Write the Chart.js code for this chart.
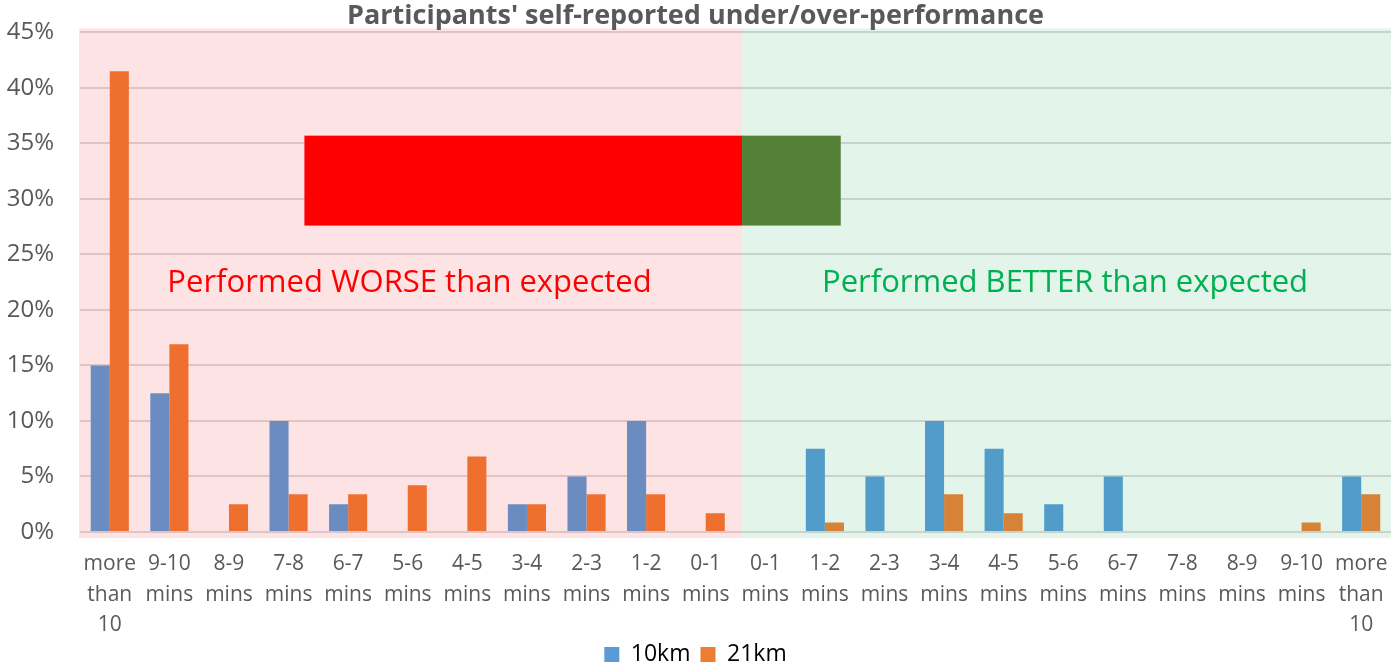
<!DOCTYPE html>
<html>
<head>
<meta charset="utf-8">
<script src="https://cdn.jsdelivr.net/npm/chart.js@4/dist/chart.umd.min.js"></script>
<style>
  body { margin: 0; background: #fff; }
</style>
</head>
<body>
<canvas id="myChart" width="1396" height="669"></canvas>
<script>
const categories = [
  ["more", "than", "10"], ["9-10", "mins"], ["8-9", "mins"], ["7-8", "mins"], ["6-7", "mins"],
  ["5-6", "mins"], ["4-5", "mins"], ["3-4", "mins"], ["2-3", "mins"], ["1-2", "mins"], ["0-1", "mins"],
  ["0-1", "mins"], ["1-2", "mins"], ["2-3", "mins"], ["3-4", "mins"], ["4-5", "mins"], ["5-6", "mins"],
  ["6-7", "mins"], ["7-8", "mins"], ["8-9", "mins"], ["9-10", "mins"], ["more", "than", "10"]
];
const km10 = [15, 12.5, 0, 10, 2.5, 0, 0, 2.5, 5, 10, 0, 0, 7.5, 5, 10, 7.5, 2.5, 5, 0, 0, 0, 5];
const km21 = [41.5, 16.9, 2.5, 3.4, 3.4, 4.2, 6.8, 2.5, 3.4, 3.4, 1.7, 0, 0.85, 0, 3.4, 1.7, 0, 0, 0, 0, 0.85, 3.4];
const yTicks = [0, 5, 10, 15, 20, 25, 30, 35, 40, 45];
// share of all runners who did worse / better (red and green block)
const worseShare = [81.6];
const betterShare = [18.4];

const worseCount = 11; // first 11 categories are "worse"

function barColors(left, right) {
  return categories.map((c, i) => i < worseCount ? left : right);
}

const regions = {
  id: 'regions',
  beforeDraw(chart) {
    const ctx = chart.ctx;
    const x = chart.scales.x, y = chart.scales.y;
    const split = x.getPixelForValue(10.61);
    const top = y.getPixelForValue(45) - 4;
    const bottom = y.getPixelForValue(0) + 6;
    ctx.save();
    ctx.fillStyle = '#fde3e4';
    ctx.fillRect(chart.chartArea.left - 1, top, split - chart.chartArea.left + 1, bottom - top);
    ctx.fillStyle = '#e3f5eb';
    ctx.fillRect(split, top, chart.chartArea.right - split, bottom - top);
    ctx.restore();
  },
  afterDatasetsDraw(chart) {
    const ctx = chart.ctx;
    const x = chart.scales.x, y = chart.scales.y;
    const span = 9; // block length in categories
    const splitV = 10.61;
    const startV = splitV - span * worseShare[0] / 100;
    const endV = splitV + span * betterShare[0] / 100;
    const top = y.getPixelForValue(35.7);
    const bottom = y.getPixelForValue(27.6);
    const x0 = x.getPixelForValue(startV);
    const x1 = x.getPixelForValue(splitV);
    const x2 = x.getPixelForValue(endV);
    ctx.save();
    ctx.fillStyle = '#ff0000';
    ctx.fillRect(x0, top, x1 - x0, bottom - top);
    ctx.fillStyle = '#538135';
    ctx.fillRect(x1, top, x2 - x1, bottom - top);

    ctx.font = '31px "Open Sans"';
    ctx.textAlign = 'center';
    ctx.textBaseline = 'middle';
    ctx.fillStyle = '#ff0000';
    ctx.fillText('Performed WORSE than expected', x.getPixelForValue(5.03), y.getPixelForValue(22.4));
    ctx.fillStyle = '#00b050';
    ctx.fillText('Performed BETTER than expected', x.getPixelForValue(16.03), y.getPixelForValue(22.4));
    ctx.restore();
  }
};

const data = {
  labels: categories,
  datasets: [{
    label: '10km',
    data: km10,
    backgroundColor: barColors('#6b8cc0', '#519cc8'),
  }, {
    label: '21km',
    data: km21,
    backgroundColor: barColors('#ef6f2f', '#d68337'),
  }]
};

const config = {
  type: 'bar',
  data,
  plugins: [regions],
  options: {
    responsive: false,
    animation: false,
    layout: { padding: { left: 0, right: 5, top: 0, bottom: -7 } },
    datasets: {
      bar: { categoryPercentage: 0.64, barPercentage: 1.0 }
    },
    scales: {
      x: {
        grid: { display: false, drawTicks: false },
        border: { display: false },
        ticks: {
          color: '#595959',
          font: { family: 'Open Sans', size: 21, lineHeight: 1.45 },
          padding: 17,
          maxRotation: 0,
          autoSkip: false
        },
        afterFit(scale) {
          scale.height = 101;
          scale.paddingLeft = 0;
          scale.paddingRight = 0;
        }
      },
      y: {
        min: 0,
        max: 45,
        afterBuildTicks(scale) { scale.ticks = yTicks.map(v => ({ value: v })); },
        grid: { color: 'rgba(110, 90, 90, 0.22)', lineWidth: 2, drawTicks: false },
        border: { display: false },
        ticks: {
          color: '#595959',
          font: { family: 'Open Sans', size: 24 },
          padding: 26,
          callback: v => v + '%'
        },
        afterFit(scale) {
          scale.width = 80;
          scale.paddingTop = 0;
          scale.paddingBottom = 0;
        }
      }
    },
    plugins: {
      title: {
        display: true,
        text: "Participants' self-reported under/over-performance",
        color: '#595959',
        font: { family: 'Open Sans', size: 27, weight: 'bold', lineHeight: 1.2 },
        padding: { top: 0, bottom: 0 }
      },
      legend: {
        position: 'bottom',
        labels: {
          color: '#595959',
          font: { family: 'Open Sans', size: 23 },
          boxWidth: 15,
          boxHeight: 15,
          padding: 10,
          generateLabels() {
            return [
              { text: '10km', fillStyle: '#5b9bd5', strokeStyle: '#5b9bd5', lineWidth: 0, datasetIndex: 0 },
              { text: '21km', fillStyle: '#ed7d31', strokeStyle: '#ed7d31', lineWidth: 0, datasetIndex: 1 }
            ];
          }
        }
      },
      tooltip: { enabled: false }
    }
  }
};

var myChart = new Chart(document.getElementById('myChart'), config);
</script>
</body>
</html>
